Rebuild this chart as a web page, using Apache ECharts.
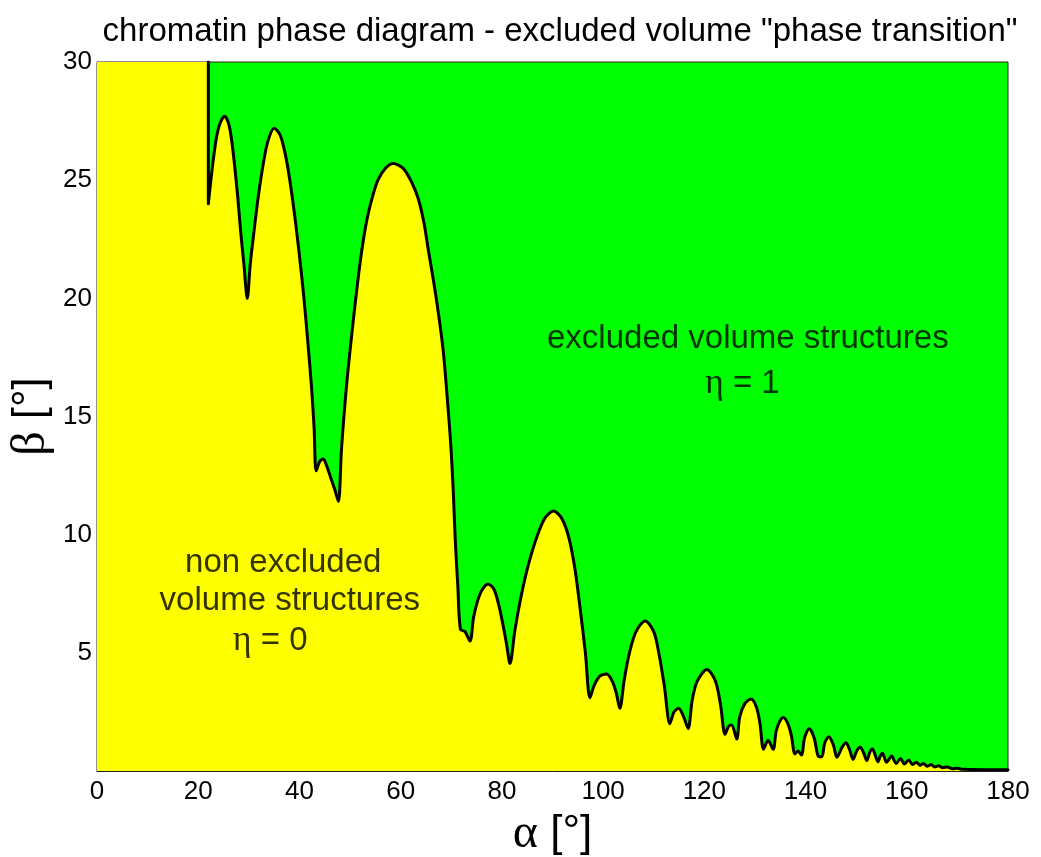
<!DOCTYPE html>
<html>
<head>
<meta charset="utf-8">
<script src="https://cdn.jsdelivr.net/npm/echarts@6/dist/echarts.min.js"></script>
<style>
  html, body { margin: 0; padding: 0; background: #fff; }
  #chart { width: 1041px; height: 857px; }
</style>
</head>
<body>
<div id="chart"></div>
<script>
// boundary between the two phases, [alpha, beta] in degrees
const boundary = [
  [0, 30], [22.0, 30], [22.0, 24.0],
  [22.5, 25.0], [23.0, 25.9], [23.6, 26.8], [24.3, 27.4], [25.2, 27.7], [26.0, 27.4],
  [26.6, 26.7], [27.2, 25.6], [27.8, 24.3], [28.4, 22.8], [29.0, 21.5], [29.7, 20.0],
  [30.3, 21.5], [31.0, 22.8], [31.8, 24.2], [32.7, 25.5], [33.7, 26.6], [35.0, 27.2],
  [36.2, 26.9], [37.2, 26.1], [38.1, 25.0], [39.0, 23.6], [39.9, 22.0], [40.8, 20.2],
  [41.6, 18.3], [42.4, 16.2], [42.9, 14.5], [43.3, 12.7],
  [44.0, 13.1], [44.7, 13.2], [45.4, 12.9], [46.2, 12.4], [47.0, 11.9], [47.7, 11.4],
  [48.3, 13.6], [49.3, 16.3], [50.4, 18.6], [51.4, 20.5], [52.3, 22.0], [53.3, 23.3],
  [54.3, 24.2], [55.5, 25.0], [57.0, 25.5], [58.5, 25.7], [60.5, 25.5], [62.2, 24.9],
  [63.5, 24.2], [64.6, 23.2], [65.5, 22.0], [66.6, 20.6], [67.5, 19.3], [68.4, 17.8],
  [69.2, 15.8], [69.9, 13.8], [70.4, 11.8], [70.8, 9.7], [71.3, 7.8], [71.8, 6.0],
  [72.7, 5.9], [73.7, 5.5],
  [74.4, 6.5], [75.2, 7.2], [76.2, 7.7], [77.3, 7.9], [78.4, 7.7], [79.3, 7.1],
  [80.2, 6.2], [80.9, 5.4], [81.6, 4.55],
  [82.6, 6.0], [83.8, 7.4], [85.2, 8.7], [86.9, 9.9], [88.5, 10.7], [90.2, 11.0],
  [91.8, 10.7], [93.2, 9.9], [94.4, 8.6], [95.5, 6.8], [96.5, 5.0], [97.4, 3.1],
  [98.2, 3.6], [99.3, 4.0], [100.7, 4.1], [101.8, 3.8], [102.6, 3.3], [103.3, 2.65],
  [104.2, 3.9], [105.2, 5.0], [106.5, 5.9], [108.3, 6.35], [110.0, 5.9], [111.0, 5.0],
  [112.1, 3.6], [113.2, 2.0],
  [114.0, 2.5], [114.9, 2.65], [115.9, 2.3], [116.8, 1.8],
  [117.6, 3.0], [118.6, 3.8], [120.5, 4.3], [122.2, 3.8], [123.2, 2.8], [124.1, 1.55],
  [124.8, 1.9], [125.4, 1.95], [126.4, 1.35],
  [127.0, 2.3], [128.0, 2.85], [129.2, 3.05], [130.3, 2.7], [131.0, 2.0], [131.7, 0.92],
  [132.6, 1.3], [133.6, 0.92],
  [134.2, 1.7], [134.9, 2.1], [135.6, 2.26], [136.5, 2.0], [137.2, 1.5], [137.9, 0.72],
  [138.5, 0.85], [139.2, 0.68],
  [139.8, 1.4], [140.7, 1.8], [141.7, 1.4], [142.5, 0.63], [143.2, 0.6],
  [143.8, 1.2], [144.6, 1.45], [145.5, 1.1], [146.2, 0.58],
  [147.2, 1.0], [148.0, 1.2], [148.7, 0.9], [149.4, 0.49],
  [150.1, 0.85], [150.8, 1.0], [151.5, 0.75], [152.1, 0.44],
  [152.7, 0.8], [153.2, 0.93], [153.8, 0.65], [154.3, 0.39],
  [154.8, 0.65], [155.2, 0.75], [155.6, 0.55], [156.0, 0.37],
  [157.0, 0.63], [157.9, 0.32], [158.8, 0.53], [159.5, 0.3], [160.4, 0.47],
  [161.1, 0.27], [161.9, 0.37], [162.6, 0.24], [163.3, 0.32], [164.0, 0.2], [164.8, 0.27],
  [165.5, 0.17], [166.3, 0.22], [167.1, 0.14], [168.0, 0.17], [169.0, 0.1], [170.0, 0.12],
  [171.0, 0.07], [180, 0.05]
]

const xTicks = [0, 20, 40, 60, 80, 100, 120, 140, 160, 180]
const yTicks = [5, 10, 15, 20, 25, 30]

// region labels, one entry per text line
const regionLabels = [
  { at: [128.6, 18.3], text: 'excluded volume structures' },
  { at: [127.5, 16.4], text: '{g|η} = 1' },
  { at: [36.8, 8.8], text: 'non excluded' },
  { at: [38.1, 7.2], text: 'volume structures' },
  { at: [34.2, 5.5], text: '{g|η} = 0' }
]

const sans = 'Liberation Sans, Arial, sans-serif'
const serif = 'Liberation Serif, DejaVu Serif, serif'

const chart = echarts.init(document.getElementById('chart'))

const option = {
  animation: false,
  backgroundColor: '#ffffff',
  title: {
    text: 'chromatin phase diagram - excluded volume "phase transition"',
    left: 555,
    top: 10,
    textAlign: 'center',
    textStyle: { fontFamily: sans, fontSize: 33, fontWeight: 'normal', color: '#000' }
  },
  grid: {
    left: 97, right: 33, top: 62, bottom: 86,
    containLabel: false, outerBoundsMode: 'none',
    show: true, backgroundColor: '#00ff00', borderColor: '#222', borderWidth: 1
  },
  xAxis: {
    type: 'value', min: 0, max: 180, interval: 20,
    name: '{g|α} [°]',
    nameLocation: 'middle', nameGap: 37,
    nameTextStyle: {
      fontFamily: sans, fontSize: 44, color: '#000',
      rich: { g: { fontFamily: serif, fontSize: 48, color: '#000' } }
    },
    axisLine: { show: true, onZero: false, lineStyle: { color: '#222', width: 1 } },
    axisTick: { show: false },
    splitLine: { show: false },
    axisLabel: {
      fontFamily: sans, fontSize: 26, color: '#000', margin: 8,
      formatter: v => xTicks.includes(v) ? String(v) : ''
    }
  },
  yAxis: {
    type: 'value', min: 0, max: 30, interval: 5,
    name: '{g|β} [°]',
    nameLocation: 'middle', nameGap: 42, nameRotate: 90,
    nameMoveOverlap: false,
    nameTextStyle: {
      fontFamily: sans, fontSize: 44, color: '#000',
      rich: { g: { fontFamily: serif, fontSize: 48, color: '#000' } }
    },
    axisLine: { show: true, onZero: false, lineStyle: { color: '#222', width: 1 } },
    axisTick: { show: false },
    splitLine: { show: false },
    axisLabel: {
      fontFamily: sans, fontSize: 26, color: '#000', margin: 5,
      formatter: v => yTicks.includes(v) ? String(v) : ''
    }
  },
  series: [
    {
      // yellow region below the boundary
      type: 'line',
      data: boundary,
      showSymbol: false,
      lineStyle: { width: 0 },
      areaStyle: { color: '#ffff00', opacity: 1, origin: 'start' },
      z: 2
    },
    {
      // boundary line, starting where it leaves the top edge
      type: 'line',
      data: boundary.slice(1),
      showSymbol: false,
      smooth: 0.3,
      lineStyle: { color: '#000', width: 3, join: 'round', cap: 'round' },
      z: 3
    },
    {
      type: 'scatter',
      symbolSize: 0,
      silent: true,
      data: regionLabels.map(r => ({ value: r.at, name: r.text })),
      label: {
        show: true,
        position: 'inside',
        formatter: p => p.name,
        fontFamily: sans, fontSize: 33, color: '#000', align: 'center',
        rich: { g: { fontFamily: serif, fontSize: 36, color: '#000' } }
      },
      z: 5
    }
  ]
}

chart.setOption(option)
</script>
</body>
</html>
